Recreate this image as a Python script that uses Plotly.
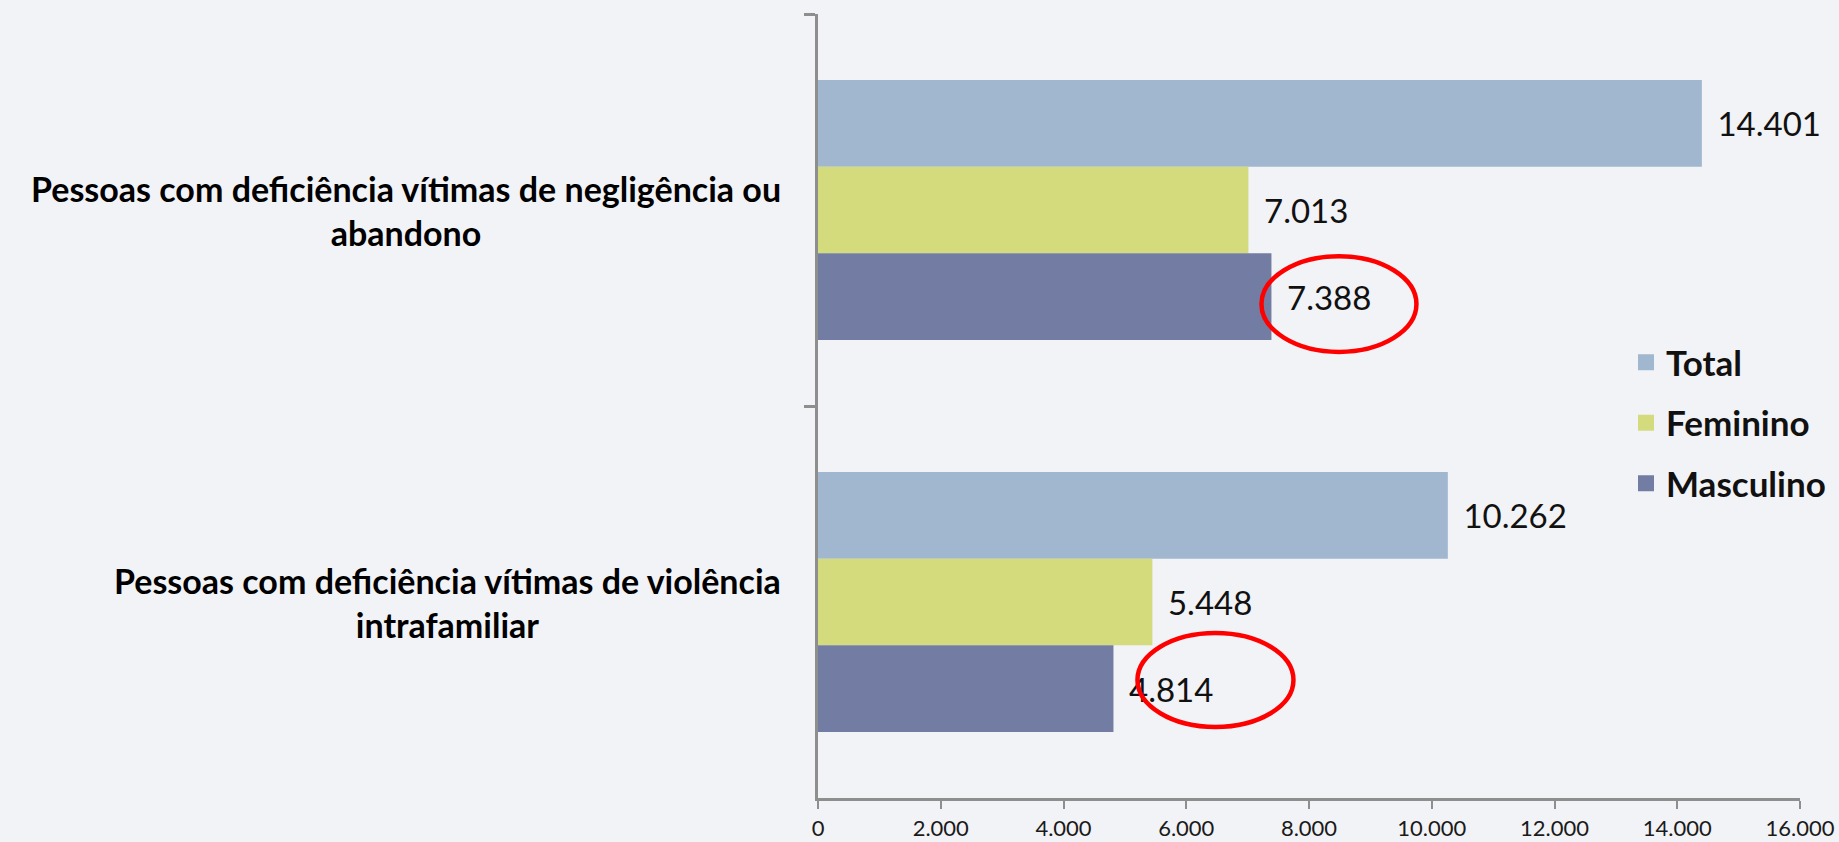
import plotly.graph_objects as go

# ---- data ----
categories = [
    "Pessoas com deficiência vítimas de negligência ou abandono",
    "Pessoas com deficiência vítimas de violência intrafamiliar",
]
category_labels = [
    "Pessoas com deficiência vítimas de negligência ou<br>abandono",
    "Pessoas com deficiência vítimas de violência<br>intrafamiliar",
]
series_names = ["Total", "Feminino", "Masculino"]
total = [14401, 10262]
feminino = [7013, 5448]
masculino = [7388, 4814]
x_ticks = [0, 2000, 4000, 6000, 8000, 10000, 12000, 14000, 16000]

colors = ["#a1b7cf", "#d4db7c", "#737ca3"]
values = [total, feminino, masculino]

# highlighted labels (Masculino values), ellipse drawn around them
highlight_values = [7388, 4814]

fig = go.Figure()
for name, vals, col in zip(series_names, values, colors):
    fig.add_trace(go.Bar(
        y=categories, x=vals, orientation="h", name=name,
        marker=dict(color=col, line=dict(width=0)),
        text=vals, texttemplate="\u00a0\u2009%{x:,d}", textposition="outside",
        textfont=dict(family="Lato", size=33, color="#111111"),
        constraintext="none",
        cliponaxis=False, showlegend=False, hoverinfo="x+name",
    ))
# legend entries with larger square swatches
for i, (name, col) in enumerate(zip(series_names, colors)):
    fig.add_trace(go.Scatter(
        x=[None], y=[None], mode="markers", name=name, legendgroup=name,
        marker=dict(symbol="square", size=21, color=col),
    ))

AX = "#8e8e8e"
fig.update_layout(
    width=1839, height=842,
    margin=dict(l=818, r=39, t=14, b=44, autoexpand=False),
    paper_bgcolor="#f2f3f6", plot_bgcolor="#f2f3f6",
    separators=",.",
    barmode="group", bargap=0.337, bargroupgap=0,
    showlegend=True,
    legend=dict(
        x=1626 / 1839, xref="container", xanchor="left",
        y=1 - 423 / 842, yref="container", yanchor="middle",
        font=dict(family="Lato", size=35, color="#111111", weight="bold"),
        traceorder="grouped", tracegroupgap=12, bgcolor="rgba(0,0,0,0)",
    ),
    xaxis=dict(
        range=[0, 16000], tickvals=x_ticks, tickformat=",d",
        showgrid=False, zeroline=False,
        showline=True, linecolor=AX, linewidth=2.5,
        ticks="outside", ticklen=8, tickwidth=2, tickcolor=AX,
        ticklabelstandoff=1,
        tickfont=dict(family="Lato", size=22, color="#1a1a1a"),
    ),
    yaxis=dict(
        type="category", categoryorder="array", categoryarray=categories,
        autorange="reversed", showticklabels=False, showgrid=False,
        showline=True, linecolor=AX, linewidth=2.5,
        ticks="outside", tickson="boundaries", ticklen=11, tickwidth=2.5, tickcolor=AX,
    ),
)

for cat, lab in zip(categories, category_labels):
    fig.add_annotation(
        x=-0.0356, xref="paper", xanchor="right",
        y=cat, yref="y", yanchor="middle",
        text=lab, align="center", showarrow=False,
        font=dict(family="Lato", size=34, color="#000000", weight="bold"),
    )

# red ellipses around the Masculino labels
ell_y = [(0.569, 0.691), (0.0906, 0.2105)]
ell_x = [(-10, 145), (24, 180)]
for v, (y0, y1), (x0, x1) in zip(highlight_values, ell_y, ell_x):
    fig.add_shape(
        type="circle", xref="x", xsizemode="pixel", xanchor=v,
        x0=x0, x1=x1, yref="paper", y0=y0, y1=y1,
        line=dict(color="#ff0000", width=4.5),
    )

fig.write_html(
    "out.html",
    config={"displayModeBar": False},
    post_script="document.body.style.margin='0';document.body.style.overflow='hidden';",
)
